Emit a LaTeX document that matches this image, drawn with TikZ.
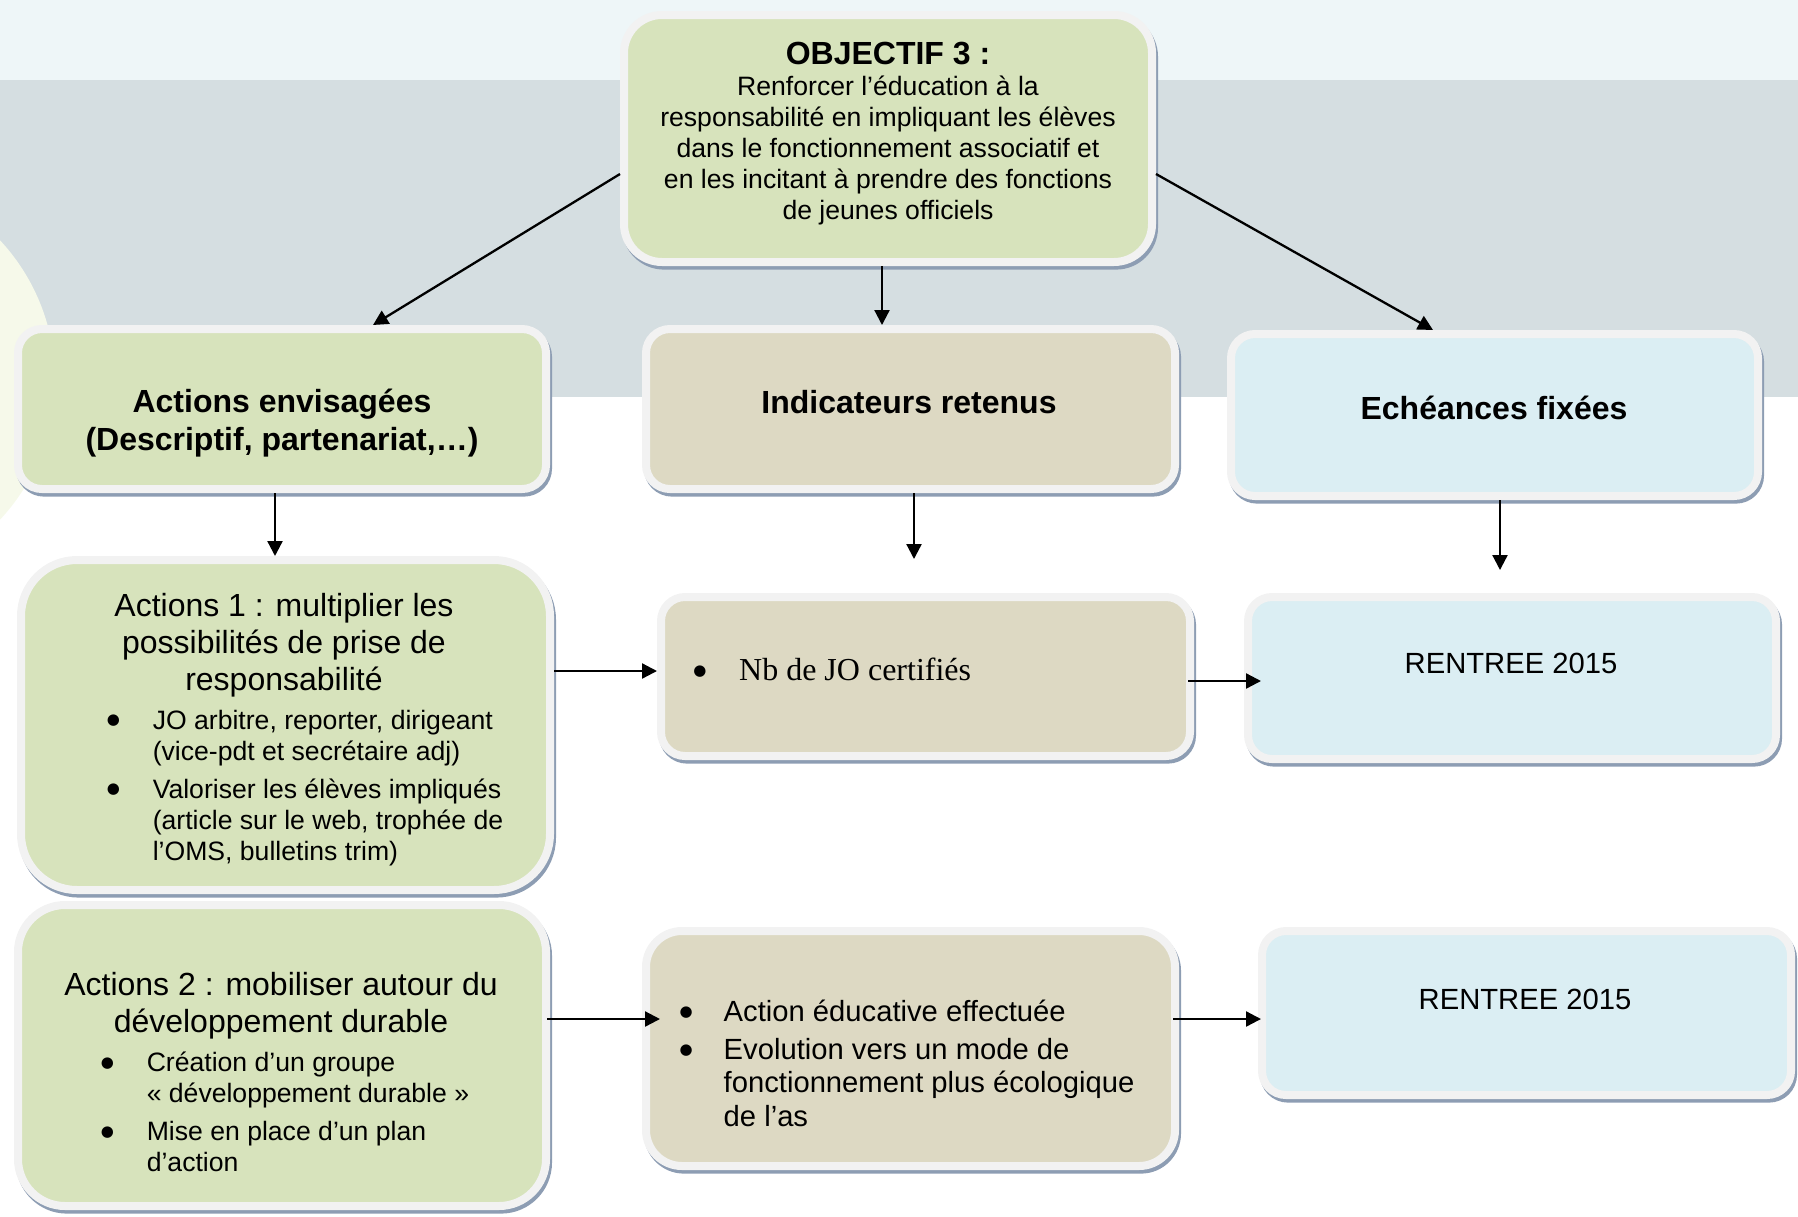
\documentclass[tikz,border=0pt]{standalone}
\usepackage{fontspec}
\setmainfont{Liberation Sans}
\newfontfamily\timesfont{Liberation Serif}
\newfontfamily\dejavu{DejaVu Sans}
\usepackage{tikz}
\usetikzlibrary{positioning}
\usetikzlibrary{arrows.meta}
\usetikzlibrary{calc}
\usetikzlibrary{shadows}

\definecolor{topband}{HTML}{EEF6F8}
\definecolor{greyband}{HTML}{D5DEE1}
\definecolor{palecircle}{HTML}{F6F9EA}
\definecolor{boxrim}{HTML}{F2F2F2}
\definecolor{shadowc}{HTML}{8D9DB3}
\definecolor{greenfill}{HTML}{D7E3BC}
\definecolor{tanfill}{HTML}{DDD9C3}
\definecolor{bluefill}{HTML}{DBEEF3}

\newcommand{\puce}{\makebox[0.525em][c]{\raisebox{0.17em}{\dejavu\fontsize{7.5}{7.5}\selectfont ●}}}

\tikzset{
  roundbox/.style={rectangle, draw=boxrim, line width=4pt, inner sep=0pt,
    drop shadow={shadow xshift=1pt, shadow yshift=-1.8pt, fill=shadowc,
      draw=shadowc, line width=4pt, opacity=1}},
  greenbox/.style={roundbox, fill=greenfill},
  tanbox/.style={roundbox, fill=tanfill},
  bluebox/.style={roundbox, fill=bluefill},
  headtxt/.style={font=\fontsize{16}{19}\selectfont\bfseries, align=center, inner sep=0pt},
  titletxt/.style={font=\fontsize{16}{18.5}\selectfont, align=center, inner sep=0pt},
  listtxt/.style={font=\fontsize{13.3}{15.5}\selectfont, inner sep=0pt},
  arr/.style={-{Triangle[length=7.5pt,width=7.5pt]}, line width=1.15pt},
}

\begin{document}
\begin{tikzpicture}[x=0.5pt, y=-0.5pt]
  \useasboundingbox (0,0) rectangle (1798,1216);
  \clip (0,0) rectangle (1798,1216);

  % background
  \fill[topband] (0,0) rectangle (1798,80);
  \fill[greyband] (0,80) rectangle (1798,397);
  \fill[palecircle] (-150,380) circle (205);

  % boxes
  \node[greenbox, minimum width=264pt, minimum height=123.5pt, rounded corners=19pt] (obj) at (888,138.5) {};
  \node[greenbox, minimum width=264pt, minimum height=80pt, rounded corners=12pt] (actenv) at (282,409) {};
  \node[tanbox, minimum width=264.5pt, minimum height=80pt, rounded corners=12pt] (indic) at (910.5,409) {};
  \node[bluebox, minimum width=263.5pt, minimum height=81pt, rounded corners=12pt] (echeance) at (1494.5,415) {};
  \node[greenbox, minimum width=264.5pt, minimum height=165pt, rounded corners=28pt] (act1) at (285.5,725) {};
  \node[tanbox, minimum width=264.5pt, minimum height=79.5pt, rounded corners=12pt] (nb) at (925.5,676.5) {};
  \node[bluebox, minimum width=264pt, minimum height=81pt, rounded corners=12pt] (ren1) at (1512,678) {};
  \node[greenbox, minimum width=264pt, minimum height=150.5pt, rounded corners=23.5pt] (act2) at (282,1055.5) {};
  \node[tanbox, minimum width=264.5pt, minimum height=117.5pt, rounded corners=18pt] (acted) at (910.5,1048.5) {};
  \node[bluebox, minimum width=264.5pt, minimum height=82pt, rounded corners=12pt] (ren2) at (1526.5,1013) {};

  % texts
  \node[align=center, inner sep=0pt, font=\fontsize{13.3}{15.5}\selectfont] (objtxt) at (888,134)
    {{\fontsize{16}{16}\selectfont\bfseries OBJECTIF 3 :}\\Renforcer l’éducation à la\\responsabilité en impliquant les élèves\\dans le fonctionnement associatif et\\en les incitant à prendre des fonctions\\de jeunes officiels};
  \node[headtxt] (actenvtxt) at (282,423.5) {Actions envisagées\\(Descriptif, partenariat,…)};
  \node[headtxt] (indictxt) at (909,402) {Indicateurs retenus};
  \node[headtxt] (echeancetxt) at (1494,408) {Echéances fixées};

  \node[titletxt] (act1title) at (284,645) {Actions 1 : multiplier les\\possibilités de prise de\\responsabilité};
  \node[listtxt, anchor=north west] (act1list) at (106,707) {%
    \begin{tabular}{@{}l@{\hspace{16.2pt}}l@{}}
    \puce & JO arbitre, reporter, dirigeant\\
          & (vice-pdt et secrétaire adj)\\[3.5pt]
    \puce & Valoriser les élèves impliqués\\
          & (article sur le web, trophée de\\
          & l’OMS, bulletins trim)
    \end{tabular}};

  \node[anchor=west, inner sep=0pt, font=\timesfont\fontsize{16}{18.4}\selectfont] (nbtxt) at (691,669.5)
    {\puce\hspace{15.5pt}Nb de JO certifiés};
  \node[titletxt, font=\fontsize{14.6}{16.8}\selectfont] (ren1txt) at (1511,663) {RENTREE 2015};

  \node[titletxt] (act2title) at (281,1006) {Actions 2 : mobiliser autour du\\développement durable};
  \node[listtxt, anchor=north west] (act2list) at (100,1049.5) {%
    \begin{tabular}{@{}l@{\hspace{16.2pt}}l@{}}
    \puce & Création d’un groupe\\
          & « développement durable »\\[3.5pt]
    \puce & Mise en place d’un plan\\
          & d’action
    \end{tabular}};

  \node[listtxt, anchor=north west, font=\fontsize{14.6}{16.8}\selectfont] (actedlist) at (678,997.5) {%
    \begin{tabular}{@{}l@{\hspace{15pt}}l@{}}
    \puce & Action éducative effectuée\\[2pt]
    \puce & Evolution vers un mode de\\
          & fonctionnement plus écologique\\
          & de l’as
    \end{tabular}};
  \node[titletxt, font=\fontsize{14.6}{16.8}\selectfont] (ren2txt) at (1525,999) {RENTREE 2015};

  % connectors
  \draw[arr] ([yshift=-17.75pt]obj.west) -- ([xshift=45.5pt]actenv.north);
  \draw[arr] ([xshift=-3pt]obj.south) -- ([xshift=-3pt]obj.south |- indic.north);
  \draw[arr] ([yshift=-17.75pt]obj.east) -- ([xshift=-30.75pt]echeance.north);

  \draw[arr] ([xshift=-3.5pt]actenv.south) -- ([xshift=-3.5pt]actenv.south |- act1.north);
  \coordinate (indicend) at ([xshift=1.75pt, yshift=-33pt]indic.south);
  \draw[arr] ([xshift=1.75pt]indic.south) -- (indicend);
  \coordinate (echeanceend) at ([xshift=2.75pt, yshift=-35pt]echeance.south);
  \draw[arr] ([xshift=2.75pt]echeance.south) -- (echeanceend);

  \draw[arr] ([yshift=27pt]act1.east) -- ([yshift=27pt]act1.east -| nb.west);
  \draw[arr, shorten <=-3pt, shorten >=-8.5pt] ([yshift=-2.25pt]nb.east) -- ([yshift=-2.25pt]nb.east -| ren1.west);
  \draw[arr, shorten <=-1.5pt, shorten >=-9pt] ([yshift=18.25pt]act2.east) -- ([yshift=18.25pt]act2.east -| acted.west);
  \draw[arr, shorten <=-3pt, shorten >=-1.5pt] ([yshift=14.75pt]acted.east) -- ([yshift=14.75pt]acted.east -| ren2.west);
\end{tikzpicture}
\end{document}
